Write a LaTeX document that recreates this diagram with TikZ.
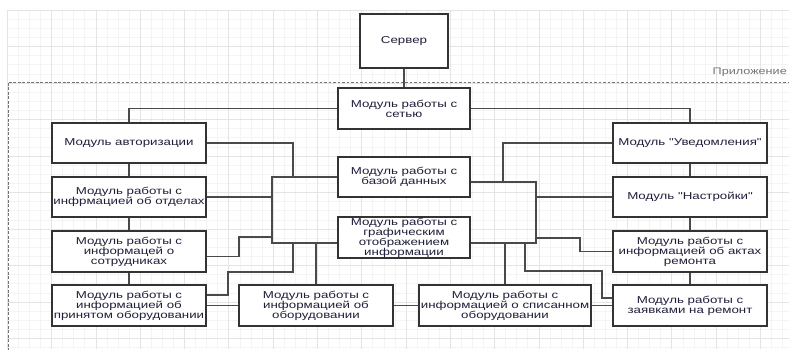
\documentclass[tikz,border=0pt]{standalone}
\usepackage{fontspec}
\newfontfamily\diagfont[FakeStretch=1.33]{Liberation Sans}
\usetikzlibrary{positioning}
\definecolor{gridminor}{HTML}{F4F4F4}
\definecolor{gridmajor}{HTML}{E4E4E4}
\definecolor{txt}{HTML}{1F1F3A}
\definecolor{edge}{HTML}{4A4A4A}

\begin{document}
\begin{tikzpicture}[x=1pt,y=-1pt,
  box/.style={draw=black!80,line width=1.3pt,fill=white,align=center,inner sep=0pt,
    text=txt,font=\diagfont\fontsize{10}{10}\selectfont,minimum width=154,minimum height=40},
  link/.style={draw=edge,line width=1.1pt},
  frame/.style={draw=black!55,line width=0.9pt,dash pattern=on 2.7pt off 1.8pt}]
\useasboundingbox (0,0) rectangle (789,349);
\fill[white] (0,0) rectangle (789,349);
% grid
\foreach \i in {0,...,70} \draw[gridminor,line width=0.7pt] ({7.3+11.075*\i},10) -- ({7.3+11.075*\i},349);
\foreach \j in {0,...,37} \draw[gridminor,line width=0.7pt] (7.3,{10+9.125*\j}) -- (789,{10+9.125*\j});
\foreach \i in {0,...,17} \draw[gridmajor,line width=0.8pt] ({7.3+44.3*\i},10) -- ({7.3+44.3*\i},349);
\foreach \j in {0,...,9} \draw[gridmajor,line width=0.8pt] (7.3,{10+36.5*\j}) -- (789,{10+36.5*\j});

% application frame
\draw[frame] (8,360) |- (800,82);
\node[anchor=base east,inner sep=0pt,text=black!55,font=\diagfont\fontsize{9.5}{10}\selectfont] (app) at (787,74) {Приложение};

% modules
\node[box,minimum width=88,minimum height=54] (server) at (404,41) {Сервер};
\node[box,minimum width=132,minimum height=41] (net) at (404,108.5) {Модуль работы с\\сетью};
\node[box,minimum width=132] (db) at (404,177) {Модуль работы с\\базой данных};
\node[box,minimum width=132,minimum height=41] (graph) at (404,237.5) {Модуль работы с\\графическим\\отображением\\информации};
\node[box] (auth) at (129,143) {Модуль авторизации};
\node[box] (dep) at (129,197) {Модуль работы с\\инфрмацией об отделах};
\node[box,minimum height=41] (emp) at (129,251.5) {Модуль работы с\\информацей о\\сотрудниках};
\node[box,minimum height=41] (acc) at (129,305.5) {Модуль работы с\\информацией об\\принятом оборудовании};
\node[box,minimum height=41] (equip) at (316,305.5) {Модуль работы с\\информацией об\\оборудовании};
\node[box,minimum width=172,minimum height=41] (off) at (505,305.5) {Модуль работы с\\информацией о списанном\\оборудовании};
\node[box] (notif) at (690,143) {Модуль "Уведомления"};
\node[box] (sett) at (690,197) {Модуль "Настройки"};
\node[box,minimum height=41] (acts) at (690,251.5) {Модуль работы с\\информацией об актах\\ремонта};
\node[box,minimum height=41] (req) at (690,305.5) {Модуль работы с\\заявками на ремонт};

% junctions
\coordinate (lbtop) at (272,177);
\coordinate (lbbot) at (272,243);
\coordinate (rbtop) at (536,182);
\coordinate (rbbot) at (536,243);
\coordinate (ja) at (293,177);
\coordinate (je) at (239,237);
\coordinate (jb) at (228,272);
\coordinate (jc) at (293,243);
\coordinate (jn) at (503,182);
\coordinate (jt) at (580,238);
\coordinate (jr1) at (525,243);
\coordinate (jr2) at (602,271);

% connectors
\path[link] (server) -- (net);
\path[link] (net.west) -| (auth.north);
\path[link] (net.east) -| (notif.north);
\path[link] (auth) -- (dep);
\path[link] (dep) -- (emp);
\path[link] (emp) -- (acc);
\path[link] (notif) -- (sett);
\path[link] (sett) -- (acts);
\path[link] (acts) -- (req);
\path[link] (db.west) -- (lbtop) -- (lbbot) -- (lbbot -| graph.west);
\path[link] (auth.east) -| (ja);
\path[link] (dep.east) -- (dep.east -| lbtop);
\path[link] ([yshift=-5pt]emp.east) -| (je) -- (je -| lbtop);
\path[link] ([yshift=10.5pt]acc.east) -| (jb) -| (jc);
\path[link] (acc) -- (equip);
\path[link] (equip.north) -- (equip.north |- lbbot);
\path[link] (equip) -- (off);
\path[link] (off) -- (req);
\path[link] ([yshift=-5pt]db.east) -- (rbtop) -- (rbbot) -- (rbbot -| graph.east);
\path[link] (notif.west) -| (jn);
\path[link] (sett.west) -- (sett.west -| rbtop);
\path[link] (jt -| rbtop) -- (jt) |- (acts.west);
\path[link] (off.north) -- (off.north |- rbbot);
\path[link] (jr1) |- (jr2) |- ([yshift=7.5pt]req.west);
\end{tikzpicture}
\end{document}
